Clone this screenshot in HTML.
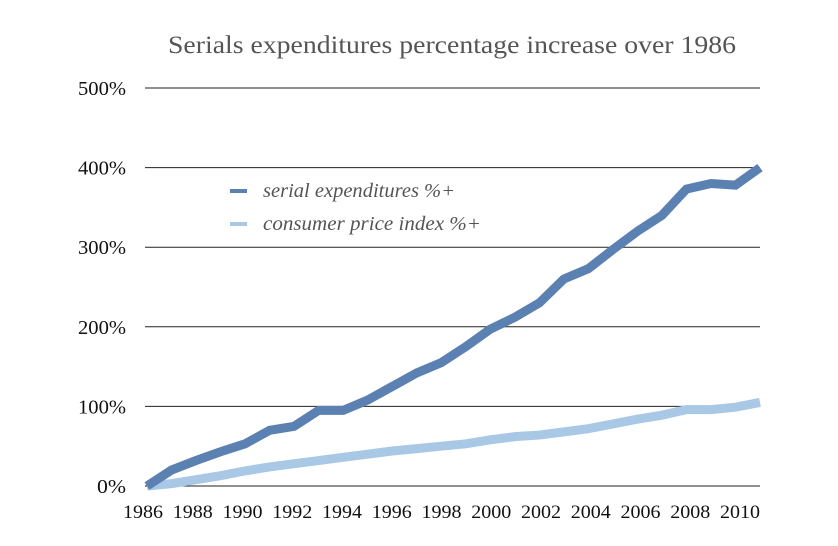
<!DOCTYPE html>
<html><head><meta charset="utf-8"><style>
html,body{margin:0;padding:0;background:#fff;}
svg{display:block;font-family:"Liberation Serif",serif;}
</style></head><body>
<svg id="chart" width="838" height="546" viewBox="0 0 838 546" xmlns="http://www.w3.org/2000/svg">
<text x="168" y="53" font-size="25" fill="#555" textLength="568" lengthAdjust="spacingAndGlyphs">Serials expenditures percentage increase over 1986</text>
<g id="grid"></g>
<g id="yticks"></g>
<g id="xticks"></g>
<g id="series"></g>
<g>
<g>
<line x1="230" y1="191" x2="247" y2="191" stroke="#5b80b2" stroke-width="4"/>
<text x="263" y="197" font-size="20" font-style="italic" fill="#555" textLength="192" lengthAdjust="spacingAndGlyphs">serial expenditures %+</text>
</g>
<g>
<line x1="230" y1="224" x2="247" y2="224" stroke="#a8c8e5" stroke-width="4"/>
<text x="263" y="230" font-size="20" font-style="italic" fill="#555" textLength="218" lengthAdjust="spacingAndGlyphs">consumer price index %+</text>
</g>
</g>
</svg>
<script>
const years = [1986,1987,1988,1989,1990,1991,1992,1993,1994,1995,1996,1997,1998,1999,2000,2001,2002,2003,2004,2005,2006,2007,2008,2009,2010,2011];
const serialValues = [0,20,32,43,53,70,75,95,95,108,125,142,155,175,197,212,230,260,273,297,320,340,373,380,378,400];
const cpiValues = [0,3,8,13,19,24,28,32,36,40,44,47,50,53,58,62,64,68,72,78,84,89,96,96,99,105];
const yTicks = [0,100,200,300,400,500];
const xTickYears = [1986,1988,1990,1992,1994,1996,1998,2000,2002,2004,2006,2008,2010];
const NS = "http://www.w3.org/2000/svg";
const x = v => 147 + (v - 1986) * 24.52;
const y = v => 486 - v * 0.796;
const xl = v => 123 + (v - 1986) / 2 * 49.75;
const grid = document.getElementById('grid'), yt = document.getElementById('yticks'), xt = document.getElementById('xticks'), ser = document.getElementById('series');
yTicks.forEach(t => {
  const l = document.createElementNS(NS,'line');
  
  
  l.setAttribute('x1',145); l.setAttribute('x2',760);
  l.setAttribute('y1',y(t)); l.setAttribute('y2',y(t));
  l.setAttribute('stroke','#222'); l.setAttribute('stroke-width','1');
  grid.appendChild(l);
  const tx = document.createElementNS(NS,'text');
  
  
  tx.setAttribute('x',78); tx.setAttribute('y',y(t)+7);
  tx.setAttribute('font-size','20'); tx.setAttribute('fill','#111');
  tx.setAttribute('textLength','48'); tx.setAttribute('lengthAdjust','spacingAndGlyphs');
  tx.textContent = t + '%';
  if (t === 0) { tx.setAttribute('x',97); tx.setAttribute('textLength','29'); }
  yt.appendChild(tx);
});
xTickYears.forEach(yr => {
  const tx = document.createElementNS(NS,'text');
  
  
  tx.setAttribute('x',xl(yr)); tx.setAttribute('y',518);
  tx.setAttribute('font-size','19'); tx.setAttribute('fill','#111');
  tx.setAttribute('textLength','40'); tx.setAttribute('lengthAdjust','spacingAndGlyphs');
  tx.textContent = yr;
  xt.appendChild(tx);
});
function drawLine(vals, color, name){
  const p = document.createElementNS(NS,'polyline');
  
  
  p.setAttribute('points', vals.map((v,i)=>x(years[i])+','+y(v)).join(' '));
  p.setAttribute('fill','none'); p.setAttribute('stroke',color);
  p.setAttribute('stroke-width','9'); p.setAttribute('stroke-linejoin','miter');
  ser.appendChild(p);
}
drawLine(cpiValues,'#a8c8e5','cpi-line');
drawLine(serialValues,'#5b80b2','serial-line');
</script>
</body></html>
